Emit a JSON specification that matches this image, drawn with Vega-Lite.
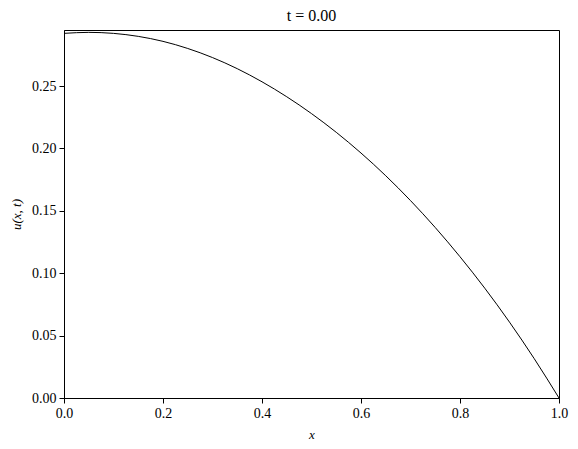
{
  "$schema": "https://vega.github.io/schema/vega-lite/v6.json",
  "autosize": {"type": "none"},
  "padding": {"left": 64, "top": 30, "right": 19, "bottom": 51},
  "width": 495,
  "height": 368,
  "background": "white",
  "title": {"text": "t = 0.00", "font": "Liberation Serif", "fontSize": 16, "fontWeight": "normal", "color": "black", "offset": 6},
  "data": {"values": [
    {"x": 0.0, "u": 0.2922},
    {"x": 0.05, "u": 0.2930},
    {"x": 0.1, "u": 0.2922},
    {"x": 0.15, "u": 0.2898},
    {"x": 0.2, "u": 0.2858},
    {"x": 0.25, "u": 0.2801},
    {"x": 0.3, "u": 0.2728},
    {"x": 0.35, "u": 0.2639},
    {"x": 0.4, "u": 0.2534},
    {"x": 0.45, "u": 0.2414},
    {"x": 0.5, "u": 0.2279},
    {"x": 0.55, "u": 0.2129},
    {"x": 0.6, "u": 0.1963},
    {"x": 0.65, "u": 0.1781},
    {"x": 0.7, "u": 0.1582},
    {"x": 0.75, "u": 0.1366},
    {"x": 0.8, "u": 0.1132},
    {"x": 0.85, "u": 0.0880},
    {"x": 0.9, "u": 0.0608},
    {"x": 0.95, "u": 0.0315},
    {"x": 1.0, "u": 0.0}
  ]},
  "mark": {"type": "line", "color": "black", "strokeWidth": 1, "interpolate": "monotone"},
  "encoding": {
    "x": {"field": "x", "type": "quantitative",
      "scale": {"domain": [0, 1], "nice": false, "zero": false},
      "axis": {"title": "x", "values": [0, 0.2, 0.4, 0.6, 0.8, 1.0], "format": ".1f", "grid": false, "labelFlush": false,
        "domainColor": "black", "tickColor": "black", "tickSize": 5, "labelColor": "black",
        "labelFont": "Liberation Serif", "labelFontSize": 14, "labelPadding": 3,
        "titleFont": "Liberation Serif", "titleFontStyle": "italic", "titleFontWeight": "normal", "titleFontSize": 13, "titleColor": "black", "titlePadding": 8}},
    "y": {"field": "u", "type": "quantitative",
      "scale": {"domain": [0, 0.2949], "nice": false, "zero": true},
      "axis": {"title": "u(x, t)", "values": [0, 0.05, 0.1, 0.15, 0.2, 0.25], "format": ".2f", "grid": false, "labelFlush": false,
        "domainColor": "black", "tickColor": "black", "tickSize": 5, "labelColor": "black",
        "labelFont": "Liberation Serif", "labelFontSize": 14, "labelPadding": 3,
        "titleFont": "Liberation Serif", "titleFontStyle": "italic", "titleFontWeight": "normal", "titleFontSize": 13, "titleColor": "black", "titlePadding": 8}}
  },
  "config": {"view": {"stroke": "black", "strokeWidth": 1}}
}
